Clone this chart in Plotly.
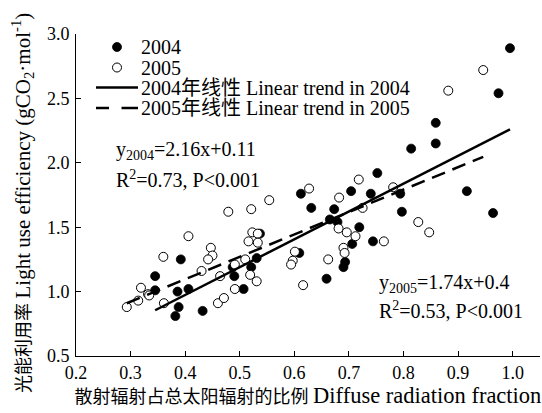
import plotly.graph_objects as go

# Diffuse radiation fraction and light use efficiency (gCO2/mol), 2004
diffuse_2004 = [0.995, 0.974, 0.859, 0.859, 0.814, 0.916, 0.964, 0.794, 0.797, 0.752,
                0.612, 0.631, 0.704, 0.740, 0.673, 0.665, 0.679, 0.719, 0.744, 0.706,
                0.693, 0.690, 0.659, 0.609, 0.537, 0.531, 0.521, 0.490, 0.507, 0.487,
                0.392, 0.345, 0.345, 0.386, 0.406, 0.388, 0.382, 0.432]
lue_2004 = [2.89, 2.54, 2.31, 2.15, 2.11, 1.78, 1.61, 1.76, 1.62, 1.92,
            1.76, 1.65, 1.78, 1.76, 1.64, 1.56, 1.54, 1.50, 1.39, 1.37,
            1.23, 1.19, 1.10, 1.30, 1.45, 1.26, 1.19, 1.12, 1.02, 1.19,
            1.25, 1.12, 1.01, 1.00, 1.02, 0.88, 0.81, 0.85]

# Same variables, 2005
diffuse_2005 = [0.946, 0.882, 0.781, 0.827, 0.847, 0.764, 0.627, 0.718, 0.682, 0.725,
                0.681, 0.696, 0.712, 0.690, 0.692, 0.662, 0.601, 0.597, 0.594, 0.616,
                0.554, 0.521, 0.523, 0.533, 0.516, 0.533, 0.519, 0.531, 0.510, 0.491,
                0.479, 0.406, 0.360, 0.447, 0.450, 0.442, 0.430, 0.319, 0.314, 0.332,
                0.334, 0.293, 0.361, 0.460, 0.471, 0.491, 0.464]
lue_2005 = [2.72, 2.56, 1.81, 1.54, 1.46, 1.39, 1.80, 1.87, 1.73, 1.65,
            1.49, 1.46, 1.43, 1.34, 1.30, 1.25, 1.31, 1.24, 1.21, 1.05,
            1.71, 1.64, 1.46, 1.45, 1.39, 1.38, 1.13, 1.08, 1.25, 1.21,
            1.62, 1.43, 1.27, 1.34, 1.28, 1.25, 1.16, 1.03, 0.93, 0.98,
            0.97, 0.88, 0.91, 0.91, 0.95, 1.02, 1.12]

# Fitted linear trends (slope, intercept)
fit_2004 = (2.16, 0.11)
fit_2005 = (1.74, 0.4)

x_ticks = [0.2, 0.3, 0.4, 0.5, 0.6, 0.7, 0.8, 0.9, 1.0]
y_ticks = [0.5, 1.0, 1.5, 2.0, 2.5, 3.0]

FONT = "Liberation Serif, Times New Roman, Noto Sans CJK SC, serif"
W, H = 542, 413
ML, MR, MT, MB = 76, 2, 34, 57
PW, PH = W - ML - MR, H - MT - MB


def px(xp):
    return (xp - ML) / PW


def py(yp):
    return (H - MB - yp) / PH


def trend(xs, fit):
    lo, hi = min(xs), max(xs)
    return [lo, hi], [fit[0] * lo + fit[1], fit[0] * hi + fit[1]]


fig = go.Figure()

fig.add_trace(go.Scatter(
    x=diffuse_2004, y=lue_2004, mode="markers", name="2004", showlegend=False,
    marker=dict(size=9, color="black", line=dict(width=0.8, color="black")),
))
fig.add_trace(go.Scatter(
    x=diffuse_2005, y=lue_2005, mode="markers", name="2005", showlegend=False,
    marker=dict(size=9, color="white", line=dict(width=1, color="black")),
))

tx, ty = trend(diffuse_2004, fit_2004)
fig.add_trace(go.Scatter(x=tx, y=ty, mode="lines", showlegend=False,
                         line=dict(color="black", width=2.5)))
tx, ty = trend(diffuse_2005, fit_2005)
fig.add_trace(go.Scatter(x=tx, y=ty, mode="lines", showlegend=False,
                         line=dict(color="black", width=2.5, dash="14px,8px")))

# Legend drawn by hand so the rows sit close together
shapes = []
annotations = []
sym_x, text_x = 117, 139
rows = [47, 67.5, 87.5, 108]
labels = ["2004", "2005",
          "2004年线性 Linear trend in 2004", "2005年线性 Linear trend in 2005"]

shapes.append(dict(type="circle", xref="paper", yref="paper", xsizemode="pixel", ysizemode="pixel",
                   xanchor=px(sym_x), yanchor=py(rows[0]), x0=-4.5, x1=4.5, y0=-4.5, y1=4.5,
                   fillcolor="black", line=dict(color="black", width=0.8)))
shapes.append(dict(type="circle", xref="paper", yref="paper", xsizemode="pixel", ysizemode="pixel",
                   xanchor=px(sym_x), yanchor=py(rows[1]), x0=-4.5, x1=4.5, y0=-4.5, y1=4.5,
                   fillcolor="white", line=dict(color="black", width=1)))
shapes.append(dict(type="line", xref="paper", yref="paper", x0=px(96), x1=px(138),
                   y0=py(rows[2]), y1=py(rows[2]), line=dict(color="black", width=2.5)))
for a, b in [(96, 109), (121.5, 138)]:
    shapes.append(dict(type="line", xref="paper", yref="paper", x0=px(a), x1=px(b),
                       y0=py(rows[3]), y1=py(rows[3]), line=dict(color="black", width=2.5)))

for r, lab in zip(rows, labels):
    annotations.append(dict(x=px(text_x), y=py(r), xref="paper", yref="paper", text=lab,
                            showarrow=False, xanchor="left", yanchor="middle",
                            font=dict(family=FONT, size=20, color="black")))

eq_font = dict(family=FONT, size=20, color="black")
annotations += [
    dict(x=px(114), y=py(150), xref="paper", yref="paper", showarrow=False,
         xanchor="left", yanchor="middle", font=eq_font,
         text="y<sub>2004</sub>=2.16x+0.11"),
    dict(x=px(114), y=py(179), xref="paper", yref="paper", showarrow=False,
         xanchor="left", yanchor="middle", font=eq_font,
         text="R<sup>2</sup>=0.73, P<0.001"),
    dict(x=px(377), y=py(283), xref="paper", yref="paper", showarrow=False,
         xanchor="left", yanchor="middle", font=eq_font,
         text="y<sub>2005</sub>=1.74x+0.4"),
    dict(x=px(377), y=py(310), xref="paper", yref="paper", showarrow=False,
         xanchor="left", yanchor="middle", font=eq_font,
         text="R<sup>2</sup>=0.53, P<0.001"),
]

# Y-axis title, placed by hand so it sits a little below the plot centre
annotations.append(dict(
    x=px(22), y=py(203), xref="paper", yref="paper", showarrow=False, textangle=-90,
    xanchor="center", yanchor="middle", font=dict(family=FONT, size=18, color="black"),
    text="光能利用率 <span style='font-size:21px'>Light use efficiency "
         "(gCO<sub>2</sub>·mol<sup>-1</sup>)</span>"))

axis_common = dict(showline=True, linecolor="black", linewidth=1, ticks="inside",
                   ticklen=5, tickwidth=1, tickcolor="black", showgrid=False, zeroline=False,
                   tickfont=dict(family=FONT, size=18, color="black"), mirror=False)

fig.update_layout(
    width=W, height=H, margin=dict(l=ML, r=MR, t=MT, b=MB),
    paper_bgcolor="white", plot_bgcolor="white",
    showlegend=False, shapes=shapes, annotations=annotations,
    xaxis=dict(range=[0.2, 1.05], tickvals=x_ticks + [1.05],
               ticktext=[f"{v:.1f}" for v in x_ticks] + [""],
               title=dict(text="散射辐射占总太阳辐射的比例 "
                               "<span style='font-size:22.5px'>Diffuse radiation fraction</span>",
                          font=dict(family=FONT, size=18, color="black"), standoff=5),
               **axis_common),
    yaxis=dict(range=[0.5, 3.0], tickvals=y_ticks, ticktext=[f"{v:.1f}" for v in y_ticks],
               ticklabelstandoff=2, **axis_common),
)

fig.write_html("out.html")
